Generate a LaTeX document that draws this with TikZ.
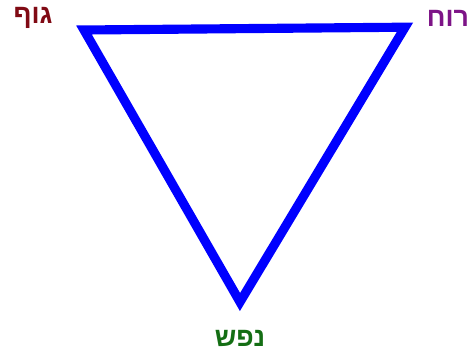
\documentclass[tikz,border=0pt]{standalone}
\usepackage{fontspec}
\usepackage{xcolor}
\usetikzlibrary{positioning}
\TeXXeTstate=1
\newfontfamily\hebfont[Script=Hebrew]{Liberation Sans}
\definecolor{gufred}{RGB}{128,10,20}
\definecolor{ruachpurple}{RGB}{125,20,135}
\definecolor{nefeshgreen}{RGB}{20,110,20}
\tikzset{
  edge/.style={draw=blue, line width=6.5pt, line join=miter},
  label/.style={font=\hebfont\bfseries\fontsize{19}{22}\selectfont, inner sep=0pt}
}

\begin{document}
\begin{tikzpicture}
        \useasboundingbox (0,0) rectangle (11.8,-8.825);
        \coordinate (top left) at (2.1,-0.75);
        \coordinate (top right) at (10.125,-0.68);
        \coordinate (bottom) at (6.0,-7.55);
        \node[label, text=gufred] (guf) at (0.825,-0.45) {\beginR גוף\endR};
        \node[label, text=ruachpurple] (ruach) at (11.2,-0.47) {\beginR רוח\endR};
        \node[label, text=nefeshgreen] (nefesh) at (6.0,-8.45) {\beginR נפש\endR};
        \draw[edge] (top left) -- (top right) -- (bottom) -- cycle;
      \end{tikzpicture}
\end{document}
